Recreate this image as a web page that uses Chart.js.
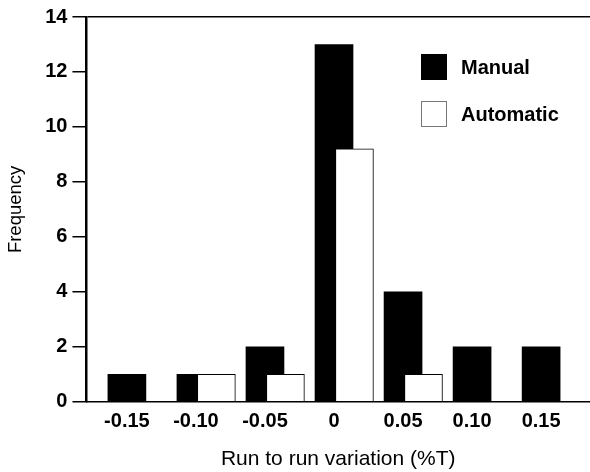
<!DOCTYPE html>
<html>
<head>
<meta charset="utf-8">
<script src="https://cdn.jsdelivr.net/npm/chart.js@4"></script>
<style>
  html, body { margin: 0; padding: 0; background: #fff; }
  #wrap { width: 590px; height: 472px; }
</style>
</head>
<body>
<div id="wrap"><canvas id="chart"></canvas></div>
<script>
const variation = [-0.15, -0.10, -0.05, 0, 0.05, 0.10, 0.15];
const tickLabels = ['-0.15', '-0.10', '-0.05', '0', '0.05', '0.10', '0.15'];
const manual = [1, 1, 2, 13, 4, 2, 2];
const automatic = [0, 1, 1, 9.2, 1, 0, 0];
const yTicks = [0, 2, 4, 6, 8, 10, 12, 14];

const FONT = "'Liberation Sans', Arial, sans-serif";

// shift of the Automatic bars to the right, in x units
const shift = 0.0148;
const xMin = -0.1793, xMax = 0.1854;

function points(values) {
    return values.map((v, i) => ({x: variation[i], y: v}));
}

// legend drawn inside the plot, top right
const legendFill = ['#000', '#fff'];
const insideLegend = {
    id: 'insideLegend',
    afterDraw(chart) {
        const ctx = chart.ctx;
        const boxX = 421, boxY = [54, 101], size = 26;
        ctx.save();
        ctx.font = 'bold 20px ' + FONT;
        ctx.textBaseline = 'middle';
        chart.data.datasets.forEach((ds, i) => {
            ctx.fillStyle = legendFill[i];
            ctx.fillRect(boxX, boxY[i], size, size);
            ctx.strokeStyle = i === 0 ? '#000' : '#777';
            ctx.lineWidth = 1;
            ctx.strokeRect(boxX + 0.5, boxY[i] + 0.5, size - 1, size - 1);
            ctx.fillStyle = '#000';
            ctx.fillText(ds.label, boxX + size + 14, boxY[i] + size / 2 + 1);
        });
        ctx.restore();
    }
};

const ctx = document.getElementById('chart').getContext('2d');
const myChart = new Chart(ctx, {
    type: 'bar',
    data: {
        datasets: [{
            label: 'Manual',
            data: points(manual),
            xAxisID: 'x',
            backgroundColor: '#000',
            borderWidth: 0,
            barThickness: 38,
            grouped: false,
            order: 1
        }, {
            label: 'Automatic',
            data: points(automatic),
            xAxisID: 'x2',
            backgroundColor: (c) => (c.raw && c.raw.y ? '#fff' : 'rgba(0,0,0,0)'),
            borderColor: '#000',
            borderWidth: (c) => (c.raw && c.raw.y ? 1 : 0),
            borderSkipped: 'bottom',
            barThickness: 38,
            grouped: false,
            order: 0
        }]
    },
    options: {
        responsive: true,
        maintainAspectRatio: false,
        animation: false,
        layout: {
            padding: {top: 6, right: 0, left: 1.5, bottom: 0}
        },
        scales: {
            x: {
                type: 'linear',
                offset: false,
                z: 1,
                min: xMin,
                max: xMax,
                afterBuildTicks: (axis) => {
                    axis.ticks = variation.map((v) => ({value: v}));
                },
                ticks: {
                    autoSkip: false,
                    maxRotation: 0,
                    padding: 0,
                    color: '#000',
                    font: {family: FONT, size: 20, weight: 'bold'},
                    callback: function(value, index) {
                        return tickLabels[index];
                    }
                },
                grid: {display: false},
                border: {display: true, color: '#000', width: 1.5},
                title: {
                    display: true,
                    text: 'Run to run variation (%T)',
                    color: '#000',
                    font: {family: FONT, size: 21},
                    padding: {top: 13, bottom: 0}
                }
            },
            x2: {
                type: 'linear',
                offset: false,
                display: false,
                min: xMin - shift,
                max: xMax - shift
            },
            y: {
                min: 0,
                max: 14,
                z: 1,
                afterBuildTicks: (axis) => {
                    axis.ticks = yTicks.map((v) => ({value: v}));
                },
                ticks: {
                    padding: 5,
                    color: '#000',
                    font: {family: FONT, size: 20, weight: 'bold'}
                },
                grid: {
                    color: (c) => (c.tick && c.tick.value === 14 ? '#000' : 'rgba(0,0,0,0)'),
                    tickColor: '#000',
                    tickLength: 14,
                    lineWidth: 1.5
                },
                border: {display: true, color: '#000', width: 2.5},
                title: {
                    display: true,
                    text: 'Frequency',
                    color: '#000',
                    font: {family: FONT, size: 18.5},
                    padding: {top: 3.5, bottom: 13}
                }
            }
        },
        plugins: {
            legend: {display: false},
            tooltip: {enabled: false}
        }
    },
    plugins: [insideLegend]
});
</script>
</body>
</html>
